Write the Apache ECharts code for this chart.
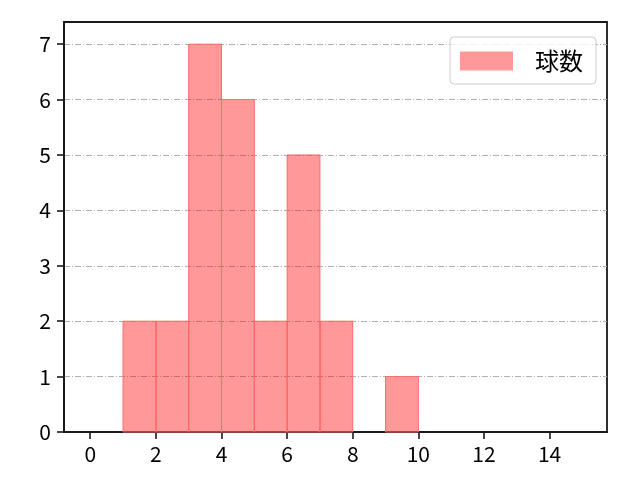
<!DOCTYPE html>
<html>
<head>
    <meta charset="utf-8">
    <title>球数</title>
    <script src="https://cdn.jsdelivr.net/npm/echarts@6/dist/echarts.min.js"></script>
</head>
<body style="margin:0">
<div id="main" style="width: 640px;height:480px;"></div>
<script type="text/javascript">

    // histogram bins (left edge, right edge) and counts
    var binLeft = [1, 2, 3, 4, 5, 6, 7, 9];
    var binRight = [2, 3, 4, 5, 6, 7, 8, 10];
    var counts = [2, 2, 7, 6, 2, 5, 2, 1];
    var xTicks = [0, 2, 4, 6, 8, 10, 12, 14];
    var yTicks = [0, 1, 2, 3, 4, 5, 6, 7];

    var data = [];
    for (var i = 0; i < counts.length; i++) {
        data.push([binLeft[i], binRight[i], counts[i]]);
    }

    var myChart = echarts.init(document.getElementById('main'));

    var lineCol = '#1a1a1a';
    var tickFont = { fontFamily: 'Noto Sans CJK JP', fontSize: 21, color: '#000' };

    var option = {
        animation: false,
        textStyle: { fontFamily: 'Noto Sans CJK JP', fontSize: 21, color: '#000' },
        grid: { left: 64, right: 33, top: 22, bottom: 48, show: true, borderColor: lineCol, borderWidth: 1.8, backgroundColor: 'transparent' },
        legend: {
            data: [{ name: '球数', icon: 'rect' }],
            right: 44,
            top: 37,
            orient: 'vertical',
            padding: [12, 13, 11, 10],
            itemWidth: 53,
            itemHeight: 19,
            itemGap: 22,
            borderColor: '#cccccc',
            borderWidth: 1,
            borderRadius: 4,
            backgroundColor: 'rgba(255,255,255,0.8)',
            textStyle: { fontFamily: 'Noto Sans CJK JP', fontSize: 24, color: '#000', padding: [0, 0, 0, 17] }
        },
        xAxis: {
            type: 'value',
            min: -0.8,
            max: 15.75,
            axisLine: { show: true, onZero: false, lineStyle: { color: lineCol, width: 1.8 } },
            axisTick: { show: true, customValues: xTicks, length: 7, lineStyle: { color: lineCol, width: 1.6 } },
            axisLabel: {
                customValues: xTicks,
                margin: 12,
                fontFamily: tickFont.fontFamily, fontSize: tickFont.fontSize, color: tickFont.color
            },
            splitLine: { show: false }
        },
        yAxis: {
            type: 'value',
            min: 0,
            max: 7.4,
            interval: 1,
            axisLine: { show: true, onZero: false, lineStyle: { color: lineCol, width: 1.8 } },
            axisTick: { show: true, customValues: yTicks, length: 7, lineStyle: { color: lineCol, width: 1.6 } },
            axisLabel: {
                showMaxLabel: false,
                margin: 13,
                fontFamily: tickFont.fontFamily, fontSize: tickFont.fontSize, color: tickFont.color
            },
            splitLine: { show: true, lineStyle: { color: '#b0b0b0', width: 1, type: [6, 2, 1, 2] } }
        },
        series: [{
            name: '球数',
            type: 'custom',
            itemStyle: { color: 'rgba(255,0,0,0.4)' },
            data: data,
            encode: { x: [0, 1], y: 2 },
            renderItem: function (params, api) {
                var p0 = api.coord([api.value(0), api.value(2)]);
                var p1 = api.coord([api.value(1), 0]);
                return {
                    type: 'rect',
                    shape: { x: p0[0], y: p0[1], width: p1[0] - p0[0], height: p1[1] - p0[1] },
                    style: { fill: 'rgba(255,0,0,0.4)', stroke: '#ff6a6a', lineWidth: 1 }
                };
            }
        }]
    };

    myChart.setOption(option);
</script>
</body>
</html>
